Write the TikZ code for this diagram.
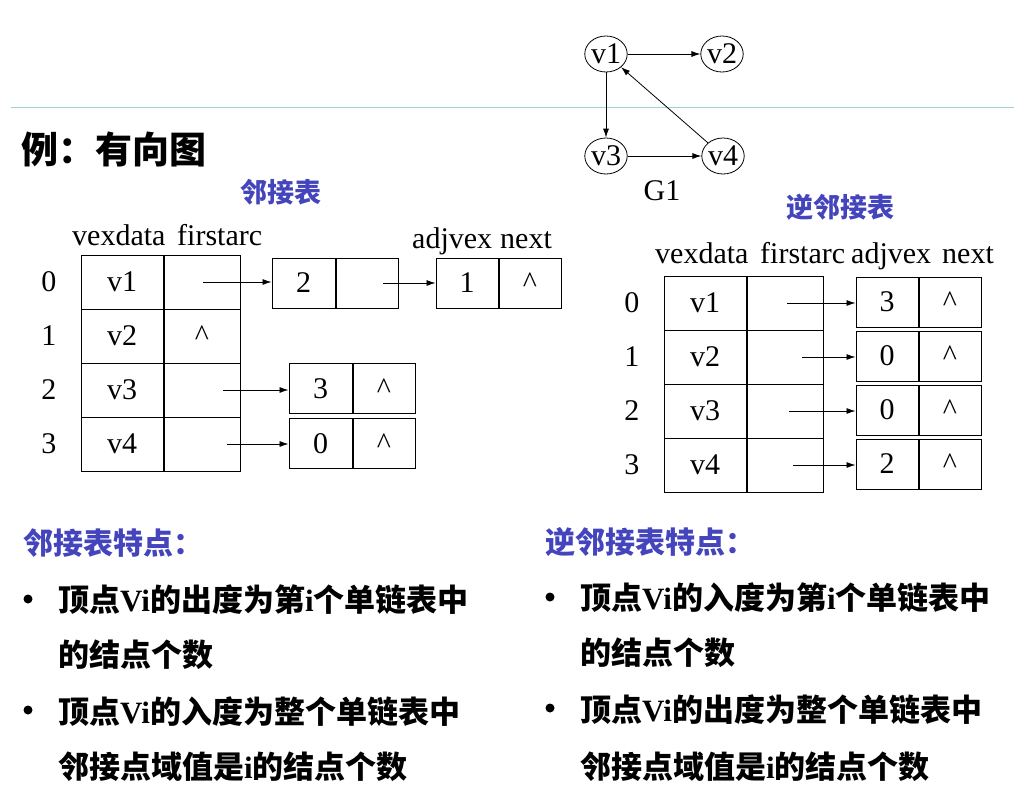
\documentclass[tikz,border=0pt]{standalone}
\usepackage{fontspec}
\setmainfont{Liberation Serif}
\newfontfamily\zh{Noto Sans CJK SC}
\usepackage{tikz}
\usetikzlibrary{positioning,shapes.geometric,arrows.meta}
\definecolor{headblue}{RGB}{68,68,188}
\definecolor{ruleteal}{RGB}{160,212,212}

\begin{document}
\begin{tikzpicture}[
      x=1pt, y=-1pt,
      >={Latex[length=9pt,width=6pt]},
      serif/.style={font=\fontsize{30}{34}\selectfont, inner sep=0pt},
      vertex/.style={
        draw,
        ellipse,
        line width=0.8pt,
        minimum width=40pt,
        minimum height=36pt,
        inner sep=0pt,
        font=\fontsize{30}{34}\selectfont
      },
      vcell/.style={draw, line width=1pt, minimum width=82pt, minimum height=54pt,
        inner sep=0pt, font=\fontsize{30}{34}\selectfont},
      fcell/.style={vcell, minimum width=76pt},
      acell/.style={draw, line width=1pt, minimum width=63pt, minimum height=50pt,
        inner sep=0pt, font=\fontsize{30}{34}\selectfont},
      ncell/.style={acell, minimum width=62pt},
      link/.style={->, line width=0.8pt},
      title/.style={font=\fontsize{27}{32}\selectfont\bfseries\zh, text=headblue, inner sep=0pt},
      feat/.style={title, font=\fontsize{30}{34}\selectfont\bfseries\zh, anchor=west},
      body/.style={font=\fontsize{31}{36}\selectfont\bfseries\zh, anchor=west, inner sep=0pt},
      dot/.style={circle, fill, inner sep=0pt, minimum size=9pt}
    ]
    \useasboundingbox (0,0) rectangle (1024,801);
    \draw[ruleteal, line width=1pt] (11,107) -- (1014,107);

    %% Graph G1
    \node[vertex] (v1) at (606,54) {v1};
    \node[vertex] (v2) at (722,54) {v2};
    \node[vertex] (v3) at (606,156) {v3};
    \node[vertex] (v4) at (723,156) {v4};
    \node[serif] (g1) at (662,191) {G1};
    \draw[link] (v1) -- (v2);
    \draw[link] (v1) -- (v3);
    \draw[link] (v3) -- (v4);
    \draw[link] (v4) -- (v1);

    \node[font=\fontsize{37}{40}\selectfont\bfseries\zh, anchor=west, inner sep=0pt]
      (example) at (21,149) {例：有向图};

    %% Adjacency list
    \node[title] (adj-title) at (281,192) {邻接表};
    \node[serif, anchor=base west] (h-vex) at (72,245) {vexdata};
    \node[serif, anchor=base west] (h-first) at (177,245) {firstarc};
    \node[serif, anchor=base west] (h-adj) at (412,248) {adjvex};
    \node[serif, anchor=base west] (h-next) at (500,248) {next};
    \foreach \i/\v/\f in {0/v1/,1/v2/\textasciicircum,2/v3/,3/v4/} {
      \node[vcell] (vd-\i) at (122,{282+54*\i}) {\v};
      \node[fcell, right=0pt of vd-\i] (fa-\i) {\f};
      \node[serif, left=24pt of vd-\i] (ix-\i) {\i};
    }
    \node[acell] (a-0) at (303.5,283) {2};
    \node[ncell, right=0pt of a-0] (n-0) {};
    \node[ncell] (b-0) at (467,283) {1};
    \node[ncell, right=0pt of b-0] (m-0) {\textasciicircum};
    \node[acell] (a-2) at (320.5,388.5) {3};
    \node[ncell, right=0pt of a-2] (n-2) {\textasciicircum};
    \node[acell] (a-3) at (320.5,443.5) {0};
    \node[ncell, right=0pt of a-3] (n-3) {\textasciicircum};
    \draw[link] ([xshift=1pt]fa-0.center) -- (a-0.west |- fa-0.center);
    \draw[link] ([xshift=16pt]n-0.center) -- (b-0.west |- n-0.center);
    \draw[link] ([xshift=21pt]fa-2.center) -- (a-2.west |- fa-2.center);
    \draw[link] ([xshift=25pt]fa-3.center) -- (a-3.west |- fa-3.center);

    %% Inverse adjacency list
    \node[title] (inv-title) at (840,207) {逆邻接表};
    \node[serif, anchor=base west] (r-vex) at (655,263) {vexdata};
    \node[serif, anchor=base west] (r-first) at (760,263) {firstarc};
    \node[serif, anchor=base west] (r-adj) at (851,263) {adjvex};
    \node[serif, anchor=base west] (r-next) at (942,263) {next};
    \foreach \i/\v/\a/\s in {0/v1/3/2,1/v2/0/17,2/v3/0/4,3/v4/2/8} {
      \node[vcell] (rv-\i) at (705,{303+54*\i}) {\v};
      \node[fcell, right=0pt of rv-\i] (rf-\i) {};
      \node[serif, left=24pt of rv-\i] (rx-\i) {\i};
      \node[ncell] (ra-\i) at (887,{302+54*\i}) {\a};
      \node[ncell, right=0pt of ra-\i] (rn-\i) {\textasciicircum};
      \draw[link] ([xshift=\s pt]rf-\i.center) -- (ra-\i.west |- rf-\i.center);
    }

    %% Features
    \node[feat] (adj-feat) at (23,543) {邻接表特点：};
    \node[dot] (bl-1) at (28,599) {};
    \node[body] (ll-1) at (58,600) {顶点\textrm{Vi}的出度为第\textrm{i}个单链表中};
    \node[body] (ll-2) at (58,655) {的结点个数};
    \node[dot] (bl-2) at (28,710) {};
    \node[body] (ll-3) at (58,712) {顶点\textrm{Vi}的入度为整个单链表中};
    \node[body] (ll-4) at (58,767) {邻接点域值是\textrm{i}的结点个数};

    \node[feat] (inv-feat) at (545,542) {逆邻接表特点：};
    \node[dot] (br-1) at (550,597) {};
    \node[body] (rl-1) at (580,598) {顶点\textrm{Vi}的入度为第\textrm{i}个单链表中};
    \node[body] (rl-2) at (580,653) {的结点个数};
    \node[dot] (br-2) at (550,708) {};
    \node[body] (rl-3) at (580,710) {顶点\textrm{Vi}的出度为整个单链表中};
    \node[body] (rl-4) at (580,767) {邻接点域值是\textrm{i}的结点个数};
  \end{tikzpicture}
\end{document}
